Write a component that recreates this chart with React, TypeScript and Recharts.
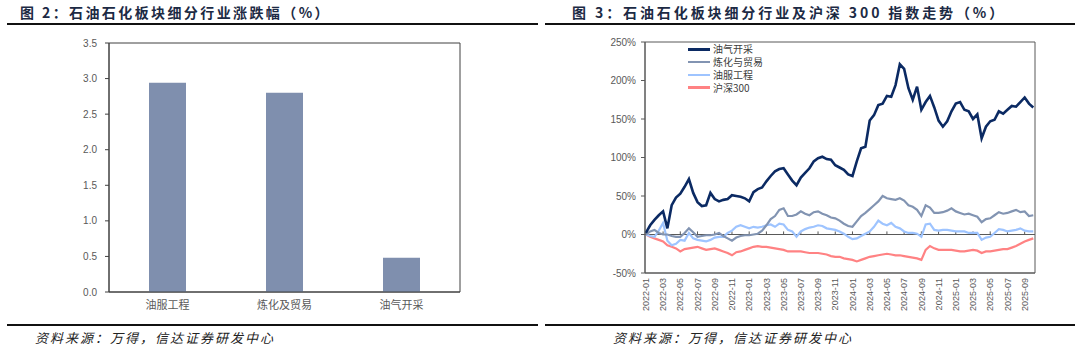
import React from 'react';
import {
  BarChart, Bar, XAxis, YAxis, LineChart, Line, ReferenceLine, ReferenceArea, Legend,
} from 'recharts';

// ---------- Figure 2 data ----------
const barCategories = ['油服工程', '炼化及贸易', '油气开采'];
const barValues = [2.94, 2.80, 0.48];
const barTicks = [0, 0.5, 1.0, 1.5, 2.0, 2.5, 3.0, 3.5];

// ---------- Figure 3 data (half-month samples, 2022-01 .. 2025-10) ----------
const oilGas = [
  2, 12, 19, 25, 30, 8, 38, 48, 53, 62, 72, 54, 42, 37, 38, 54, 46, 43, 45, 46,
  51, 50, 49, 47, 43, 55, 59, 61, 69, 76, 82, 85, 86, 78, 70, 64, 74, 80, 86, 95,
  99, 101, 98, 97, 90, 87, 84, 78, 76, 95, 112, 114, 148, 155, 168, 170, 180, 179, 194, 221,
  215, 190, 175, 192, 162, 172, 180, 165, 148, 140, 147, 160, 170, 172, 162, 160, 150, 156, 125, 140,
  147, 149, 160, 157, 162, 167, 166, 172, 178, 170, 165,
];
const refining = [
  0, 4, 6, 2, 0, 0, -2, -3, -3, 2, 8, 3, -3, -2, -1, -1, 0, 2, -2, -5,
  -8, -4, -2, -1, -1, 0, 1, 5, 12, 20, 24, 32, 34, 24, 24, 26, 30, 27, 25, 29,
  30, 27, 25, 22, 21, 18, 14, 11, 10, 17, 24, 28, 33, 38, 43, 50, 47, 46, 45, 47,
  44, 38, 36, 32, 24, 38, 35, 28, 28, 29, 31, 34, 30, 28, 26, 27, 25, 23, 16, 20,
  21, 25, 29, 27, 28, 30, 32, 29, 30, 24, 25,
];
const oilService = [
  0, -2, -3, 5, 15, -8, -14, -12, -7, -8, 2, -5, -7, -8, -9, -7, -4, -3, -3, 2,
  5, 10, 12, 10, 8, 10, 9, 10, 12, 13, 10, 14, 13, 6, 4, -3, 4, 7, 9, 10,
  12, 11, 8, 7, 6, 4, 1, -3, -6, -5, -2, 1, 4, 10, 18, 14, 12, 15, 10, 8,
  4, 2, 2, 1, -3, 13, 14, 6, 5, 6, 6, 5, 4, 4, 4, 2, 2, 2, -7, -4,
  -3, 2, 7, 6, 4, 5, 6, 8, 5, 4, 4,
];
const hs300 = [
  0, -3, -5, -7, -9, -14, -16, -18, -22, -19, -18, -17, -16, -18, -20, -19, -18, -20, -22, -24,
  -27, -23, -22, -20, -18, -16, -15, -16, -16, -17, -18, -19, -20, -22, -22, -22, -22, -23, -24, -24,
  -24, -25, -26, -28, -29, -29, -31, -32, -33, -35, -33, -31, -29, -28, -27, -26, -25, -26, -27, -27,
  -28, -29, -30, -31, -33, -20, -15, -18, -20, -20, -20, -20, -21, -22, -22, -21, -20, -21, -24, -22,
  -22, -21, -20, -19, -19, -17, -15, -12, -9, -7, -5,
];
const lineTickMonths = [0, 2, 4, 6, 8, 10, 12, 14, 16, 18, 20, 22, 24, 26, 28, 30, 32, 34, 36, 38, 40, 42, 44];
const lineTickLabels = [
  '2022-01', '2022-03', '2022-05', '2022-07', '2022-09', '2022-11',
  '2023-01', '2023-03', '2023-05', '2023-07', '2023-09', '2023-11',
  '2024-01', '2024-03', '2024-05', '2024-07', '2024-09', '2024-11',
  '2025-01', '2025-03', '2025-05', '2025-07', '2025-09',
];
const lineYTicks = [-50, 0, 50, 100, 150, 200, 250];

const seriesNames = ['油气开采', '炼化与贸易', '油服工程', '沪深300'];
const seriesKeys = ['oilGas', 'refining', 'oilService', 'hs300'];
const seriesColors = ['#0b2a63', '#8294b2', '#9ec4ff', '#ff8283'];
const seriesWidths = [2.6, 2.2, 2.2, 2.2];

const barData = barCategories.map((c, i) => ({ name: c, value: barValues[i] }));
const lineData = oilGas.map((_, i) => ({
  m: i / 2,
  oilGas: oilGas[i],
  refining: refining[i],
  oilService: oilService[i],
  hs300: hs300[i],
}));

const FONT = '"Liberation Sans", "Noto Sans CJK SC", sans-serif';
const CJK = '"Noto Sans CJK SC", sans-serif';
const axisGray = '#595959';

const RotTick = (props: any) => {
  const { x, y, payload } = props;
  const idx = lineTickMonths.indexOf(payload.value);
  const label = idx >= 0 ? lineTickLabels[idx] : '';
  return (
    <g transform={`translate(${x},${y + 5})`}>
      <text transform="rotate(-90)" textAnchor="end" dy="0.35em" fontSize={9} fill={axisGray} fontFamily={FONT}>
        {label}
      </text>
    </g>
  );
};

const LegendBox = () => (
  <div style={{ fontFamily: CJK, fontSize: 10, color: '#404040', lineHeight: '12px', textAlign: 'left' }}>
    {seriesNames.map((n, i) => (
      <div key={n} style={{ display: 'flex', alignItems: 'center', height: 12.8, margin: 0, padding: 0 }}>
        <span style={{ display: 'inline-block', flex: 'none', width: 22, height: seriesWidths[i] + 0.4, background: seriesColors[i], marginRight: 3 }} />
        <span style={{ display: 'inline-block', height: 12, lineHeight: '12px', overflow: 'visible', whiteSpace: 'nowrap' }}>{n}</span>
      </div>
    ))}
  </div>
);

const titleStyle: React.CSSProperties = {
  position: 'absolute', top: 2, fontFamily: CJK, fontWeight: 700, fontSize: 14,
  letterSpacing: 2.4, color: '#1c2a44', whiteSpace: 'nowrap',
};
const footStyle: React.CSSProperties = {
  position: 'absolute', top: 328, fontFamily: CJK, fontStyle: 'italic', fontSize: 13,
  letterSpacing: 2, color: '#222', whiteSpace: 'nowrap',
};

export default function App() {
  return (
    <div style={{ position: 'absolute', left: 0, top: 0, width: 1080, height: 352, background: '#fff', overflow: 'hidden' }}>
      {/* headers */}
      <div style={{ ...titleStyle, left: 20 }}>图 2：石油石化板块细分行业涨跌幅（%）</div>
      <div style={{ ...titleStyle, left: 572, letterSpacing: 2.9 }}>图 3：石油石化板块细分行业及沪深 300 指数走势（%）</div>
      <div style={{ position: 'absolute', left: 7, top: 23, width: 531, height: 2, background: '#111' }} />
      <div style={{ position: 'absolute', left: 545, top: 23, width: 530, height: 2, background: '#111' }} />
      <div style={{ position: 'absolute', left: 7, top: 324, width: 531, height: 1.5, background: '#111' }} />
      <div style={{ position: 'absolute', left: 545, top: 324, width: 530, height: 1.5, background: '#111' }} />
      <div style={{ ...footStyle, left: 35 }}>资料来源：万得，信达证券研发中心</div>
      <div style={{ ...footStyle, left: 613 }}>资料来源：万得，信达证券研发中心</div>

      {/* Figure 2 */}
      <div style={{ position: 'absolute', left: 0, top: 0 }}>
        <BarChart width={540} height={352} data={barData} margin={{ top: 43, right: 80, bottom: 0, left: 0 }}>
          <XAxis
            dataKey="name" height={60} tickLine={false} tickSize={0} tickMargin={9}
            axisLine={{ stroke: '#404040' }}
            tick={{ fontSize: 11, fill: axisGray, fontFamily: CJK }}
          />
          <YAxis
            width={109} domain={[0, 3.5]} ticks={barTicks} tickSize={4} tickMargin={8}
            tickFormatter={(v: number) => v.toFixed(1)}
            axisLine={{ stroke: '#404040' }} tickLine={{ stroke: '#404040' }}
            tick={{ fontSize: 10, fill: axisGray, fontFamily: FONT }}
          />
          <ReferenceArea x1="油服工程" x2="油气开采" y1={0} y2={3.5} fill="none" stroke="#404040" strokeWidth={1} />
          <Bar dataKey="value" fill="#7f8fae" barSize={37} isAnimationActive={false} />
        </BarChart>
      </div>

      {/* Figure 3 */}
      <div style={{ position: 'absolute', left: 540, top: 0 }}>
        <LineChart width={540} height={352} data={lineData} margin={{ top: 42, right: 45, bottom: 0, left: 0 }}>
          <XAxis
            dataKey="m" type="number" domain={[-0.1, 45.2]} ticks={lineTickMonths} height={79}
            tickLine={false} tickSize={0} tickMargin={0} interval={0}
            axisLine={{ stroke: axisGray }} tick={<RotTick />}
          />
          <YAxis
            width={105} domain={[-50, 250]} ticks={lineYTicks} tickSize={4} tickMargin={5}
            tickFormatter={(v: number) => `${v}%`}
            axisLine={{ stroke: axisGray }} tickLine={{ stroke: axisGray }}
            tick={{ fontSize: 10, fill: axisGray, fontFamily: FONT }}
          />
          <ReferenceArea x1={-0.1} x2={45.2} y1={-50} y2={250} fill="none" stroke={axisGray} strokeWidth={1} />
          <ReferenceLine y={0} stroke={axisGray} strokeWidth={1} />
          {lineTickMonths.map((m) => (
            <ReferenceLine key={`t${m}`} segment={[{ x: m, y: 0 }, { x: m, y: 4 }]} stroke={axisGray} strokeWidth={1} />
          ))}
          <Legend
            verticalAlign="middle" align="center" layout="vertical"
            wrapperStyle={{ position: 'absolute', left: 148, top: 43, width: 110, height: 52 }}
            content={<LegendBox />}
          />
          {[3, 2, 1, 0].map((i) => (
            <Line
              key={seriesKeys[i]} type="linear" dataKey={seriesKeys[i]} name={seriesNames[i]}
              stroke={seriesColors[i]} strokeWidth={seriesWidths[i]} dot={false}
              isAnimationActive={false}
            />
          ))}
        </LineChart>
      </div>
    </div>
  );
}
